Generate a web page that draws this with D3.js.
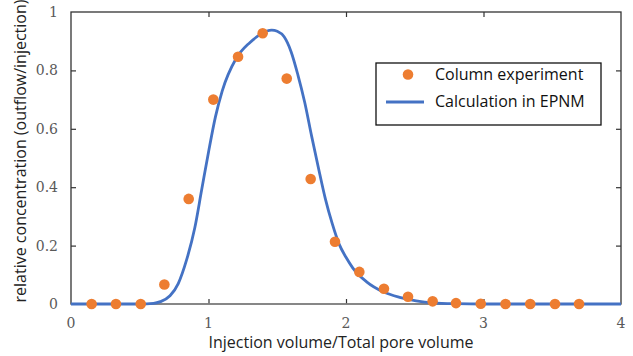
<!DOCTYPE html>
<html>
<head>
<meta charset="utf-8">
<script src="https://cdn.jsdelivr.net/npm/d3@7"></script>
<style>
  body { margin: 0; background: #fff; }
</style>
</head>
<body>
<div id="chart"></div>
<script>
// experiment points (injection volume / total pore volume, relative concentration)
var expX = [0.15, 0.327, 0.507, 0.679, 0.856, 1.035, 1.215, 1.394, 1.569, 1.743, 1.92,
            2.097, 2.276, 2.451, 2.63, 2.80, 2.98, 3.16, 3.34, 3.52, 3.695];
var expY = [0, 0, 0, 0.067, 0.36, 0.70, 0.847, 0.927, 0.772, 0.428, 0.213,
            0.11, 0.052, 0.025, 0.009, 0.003, 0.001, 0, 0, 0, 0];

// EPNM calculation curve
var calcX = [0, 0.5, 0.6, 0.65, 0.72, 0.78, 0.84, 0.90, 0.95, 1.00, 1.05, 1.10, 1.20,
             1.30, 1.36, 1.42, 1.46, 1.50, 1.55, 1.60, 1.65, 1.70, 1.75, 1.80, 1.85,
             1.90, 1.95, 2.00, 2.05, 2.15, 2.27, 2.39, 2.51, 2.63, 2.80, 3.0, 4.0];
var calcY = [0, 0, 0.002, 0.008, 0.028, 0.07, 0.15, 0.26, 0.39, 0.52, 0.64, 0.73, 0.84,
             0.895, 0.918, 0.934, 0.938, 0.934, 0.915, 0.865, 0.785, 0.69, 0.575, 0.465, 0.36,
             0.275, 0.205, 0.16, 0.123, 0.076, 0.042, 0.023, 0.011, 0.004, 0.001, 0, 0];

var xTicks = [0, 1, 2, 3, 4];
var yTicks = [0, 0.2, 0.4, 0.6, 0.8, 1];
var yTickLabels = ["0", "0.2", "0.4", "0.6", "0.8", "1"];
var seriesNames = ["Column experiment", "Calculation in EPNM"];
var xTitle = "Injection volume/Total pore volume";
var yTitle = "relative concentration (outflow/injection)";

var W = 633, H = 356;
var margin = {top: 12, right: 12, bottom: 52, left: 71};
var width = W - margin.left - margin.right,
    height = H - margin.top - margin.bottom;

var orange = "#ED7D31", blue = "#4472C4";
var serif = "'DejaVu Serif', 'Liberation Serif', serif";
var sans = "'Open Sans', 'Noto Sans', sans-serif";

var x = d3.scaleLinear().domain([0, 4]).range([0, width]);
var y = d3.scaleLinear().domain([0, 1]).range([height, 0]);

var svg = d3.select("#chart").append("svg")
    .attr("width", W)
    .attr("height", H)
  .append("g")
    .attr("transform", "translate(" + margin.left + "," + margin.top + ")");

// frame
svg.append("rect")
    .attr("x", 0).attr("y", 0)
    .attr("width", width).attr("height", height)
    .attr("fill", "none")
    .attr("stroke", "#333")
    .attr("stroke-width", 1.3);

// inward ticks on all four sides
var inner = function(axis) {
  return axis.tickSizeInner(-5).tickSizeOuter(0).tickFormat("");
};
var innerX = [1, 2, 3], innerY = [0.2, 0.4, 0.6, 0.8];
svg.append("g").attr("class", "axis").attr("transform", "translate(0," + height + ")")
    .call(inner(d3.axisBottom(x).tickValues(innerX)));
svg.append("g").attr("class", "axis")
    .call(inner(d3.axisTop(x).tickValues(innerX)));
svg.append("g").attr("class", "axis")
    .call(inner(d3.axisLeft(y).tickValues(innerY)));
svg.append("g").attr("class", "axis").attr("transform", "translate(" + width + ",0)")
    .call(inner(d3.axisRight(y).tickValues(innerY)));
svg.selectAll(".axis .domain").remove();
svg.selectAll(".axis line").attr("stroke", "#333").attr("stroke-width", 1.2);

// bottom axis line is lighter in the original
svg.append("line")
    .attr("x1", 0).attr("x2", width)
    .attr("y1", height).attr("y2", height)
    .attr("stroke", "#8c8c8c").attr("stroke-width", 1.5);

// tick labels
svg.selectAll(".xlab").data(xTicks).enter().append("text")
    .attr("font-family", serif).attr("font-size", 14).attr("fill", "#595959")
    .attr("text-anchor", "middle")
    .attr("x", function(d) { return x(d); })
    .attr("y", height + 24)
    .text(function(d) { return d; });

svg.selectAll(".ylab").data(yTicks).enter().append("text")
    .attr("font-family", serif).attr("font-size", 14).attr("fill", "#595959")
    .attr("text-anchor", "end")
    .attr("x", -13)
    .attr("y", function(d) { return y(d) + 5; })
    .text(function(d, i) { return yTickLabels[i]; });

// titles
svg.append("text")
    .attr("font-family", sans).attr("font-size", 16).attr("fill", "#222")
    .attr("text-anchor", "middle")
    .attr("x", x(2) - 5)
    .attr("y", height + 44)
    .text(xTitle);

svg.append("text")
    .attr("font-family", sans).attr("font-size", 16).attr("fill", "#222")
    .attr("text-anchor", "middle")
    .attr("transform", "translate(" + (-45) + "," + (height / 2 - 7) + ") rotate(-90)")
    .text(yTitle);

// calculation curve
var calc = calcX.map(function(d, i) { return {x: d, y: calcY[i]}; });
var line = d3.line()
    .x(function(d) { return x(d.x); })
    .y(function(d) { return y(d.y); })
    .curve(d3.curveMonotoneX);

svg.append("path")
    .datum(calc)
    .attr("fill", "none")
    .attr("stroke", blue)
    .attr("stroke-width", 2.8)
    .attr("d", line);

// experiment points
var pts = expX.map(function(d, i) { return {x: d, y: expY[i]}; });
svg.selectAll(".dot").data(pts).enter().append("circle")
    .attr("class", "dot")
    .attr("cx", function(d) { return x(d.x); })
    .attr("cy", function(d) { return y(d.y); })
    .attr("r", 5.3)
    .attr("fill", orange);

// legend
var lg = svg.append("g")
    .attr("transform", "translate(" + (376 - margin.left) + "," + (63 - margin.top) + ")");
lg.append("rect")
    .attr("width", 225).attr("height", 62)
    .attr("fill", "#fff")
    .attr("stroke", "#111")
    .attr("stroke-width", 1.3);
lg.append("circle")
    .attr("cx", 32).attr("cy", 11.5).attr("r", 5.3)
    .attr("fill", orange);
lg.append("line")
    .attr("x1", 10).attr("x2", 48)
    .attr("y1", 39).attr("y2", 39)
    .attr("stroke", blue).attr("stroke-width", 2.8);
lg.selectAll("text").data(seriesNames).enter().append("text")
    .attr("font-family", sans).attr("font-size", 16).attr("fill", "#111")
    .attr("x", 59)
    .attr("y", function(d, i) { return 17 + i * 27; })
    .text(function(d) { return d; });
</script>
</body>
</html>
